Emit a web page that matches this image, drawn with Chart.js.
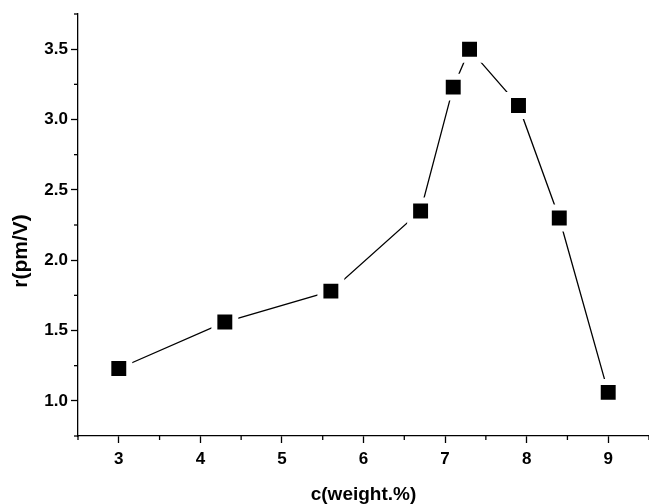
<!DOCTYPE html>
<html>
<head>
<meta charset="utf-8">
<script src="https://cdn.jsdelivr.net/npm/chart.js@4"></script>
<style>
  body { margin: 0; background: #fff; }
</style>
</head>
<body>
<canvas id="myChart" width="649" height="504"></canvas>
<script>
// values
let CONC = [3, 4.3, 5.6, 6.7, 7.1, 7.3, 7.9, 8.4, 9]
let R = [1.23, 1.56, 1.78, 2.35, 3.23, 3.5, 3.1, 2.3, 1.06]

let X_LABELS = ['3', '4', '5', '6', '7', '8', '9']
let Y_LABELS = ['1.0', '1.5', '2.0', '2.5', '3.0', '3.5']

let X_TITLE = 'c(weight.%)'
let Y_TITLE = 'r(pm/V)'

let FONT = '"Liberation Sans", Arial, sans-serif'

let isMajorX = (v) => X_LABELS.includes(String(v))
let isMajorY = (v) => Y_LABELS.includes(v.toFixed(1)) && Math.abs(v * 2 - Math.round(v * 2)) < 1e-6

// short minor ticks + axis titles
let extras = {
    id: 'extras',
    afterDraw(chart) {
        let c = chart.ctx
        let xs = chart.scales.x
        let ys = chart.scales.y
        c.save()
        c.strokeStyle = '#000'
        c.lineWidth = 1.3
        xs.ticks.forEach(t => {
            if (isMajorX(t.value)) return
            let px = xs.getPixelForValue(t.value)
            c.beginPath()
            c.moveTo(px, xs.top)
            c.lineTo(px, xs.top + 4)
            c.stroke()
        })
        ys.ticks.forEach(t => {
            if (isMajorY(t.value)) return
            let py = ys.getPixelForValue(t.value)
            c.beginPath()
            c.moveTo(ys.right, py)
            c.lineTo(ys.right - 4, py)
            c.stroke()
        })

        c.fillStyle = '#000'
        c.font = 'bold 19px ' + FONT
        c.textAlign = 'center'
        c.textBaseline = 'middle'
        c.fillText(X_TITLE, (chart.chartArea.left + chart.chartArea.right) / 2, 495)

        c.translate(21, 251)
        c.rotate(-Math.PI / 2)
        c.font = 'bold 21px ' + FONT
        c.fillText(Y_TITLE, 0, 0)
        c.restore()
    }
}

let ctx = document.getElementById('myChart')

let myChart = new Chart(ctx, {
    type: 'line',
    data: {
        datasets: [{
            data: CONC.map((x, i) => ({ x: x, y: R[i] })),
            borderColor: '#000',
            borderWidth: 1.3,
            pointStyle: 'rect',
            pointRadius: 14.8,
            pointBackgroundColor: '#000',
            pointBorderColor: '#fff',
            pointBorderWidth: 6,
            tension: 0,
            clip: false
        }]
    },
    options: {
        responsive: false,
        animation: false,
        events: [],
        layout: { autoPadding: false, padding: { top: 14, right: 0, left: 0, bottom: 0 } },
        plugins: {
            legend: { display: false },
            tooltip: { enabled: false }
        },
        scales: {
            x: {
                type: 'linear',
                min: 2.5,
                max: 9.5,
                afterFit: (s) => {
                    s.height = 68
                    s.paddingLeft = 0
                    s.paddingRight = 0
                },
                border: { color: '#000', width: 1.3 },
                grid: {
                    drawOnChartArea: false,
                    tickLength: 7,
                    tickWidth: 1.3,
                    tickColor: (c) => isMajorX(c.tick.value) ? '#000' : 'rgba(0,0,0,0)'
                },
                ticks: {
                    stepSize: 0.5,
                    autoSkip: false,
                    maxRotation: 0,
                    padding: 6,
                    color: '#000',
                    font: { family: FONT, size: 17, weight: 'bold' },
                    callback: (v) => isMajorX(v) ? String(v) : ''
                }
            },
            y: {
                min: 0.75,
                max: 3.75,
                afterFit: (s) => {
                    s.width = 78
                    s.paddingTop = 0
                    s.paddingBottom = 0
                },
                border: { color: '#000', width: 1.3 },
                grid: {
                    drawOnChartArea: false,
                    tickLength: 7,
                    tickWidth: 1.3,
                    tickColor: (c) => isMajorY(c.tick.value) ? '#000' : 'rgba(0,0,0,0)'
                },
                ticks: {
                    stepSize: 0.25,
                    autoSkip: false,
                    padding: 3,
                    color: '#000',
                    font: { family: FONT, size: 17, weight: 'bold' },
                    callback: (v) => isMajorY(v) ? v.toFixed(1) : ''
                }
            }
        }
    },
    plugins: [extras]
});
</script>
</body>
</html>
